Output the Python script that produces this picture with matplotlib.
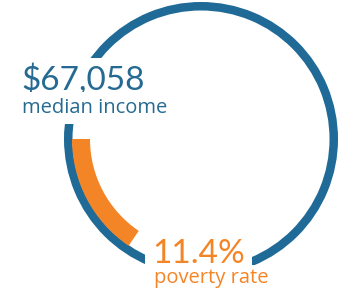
import matplotlib.pyplot as plt
from matplotlib.patches import Wedge

# data
median_income = 67058
poverty_rate = 11.4
labels = ['median income', 'poverty rate']

blue = '#1f6a96'
orange = '#f48526'
text_blue = '#256a92'

# sweep of the orange arc, degrees per percentage point
deg_per_pct = 4.9

fig = plt.figure(figsize=(3.58, 2.99), dpi=100)
ax = fig.add_axes([0, 0, 1, 1])
ax.set_xlim(0, 358)
ax.set_ylim(299, 0)
ax.set_aspect('equal')
ax.axis('off')

cx, cy = 201, 139

# outer blue ring
ring = Wedge((cx, cy), 137, 0, 360, width=8.5, facecolor=blue, edgecolor='none', zorder=1)
ax.add_patch(ring)

# orange arc for poverty rate, starting at 9 o'clock and going down
sweep = poverty_rate * deg_per_pct
arc = Wedge((cx, cy), 129, 180 - sweep, 180, width=18, facecolor=orange, edgecolor='none', zorder=2)
ax.add_patch(arc)

ax.text(21, 90, f'${median_income:,}', fontsize=24, color=text_blue, family='Lato',
        va='baseline', ha='left', zorder=3,
        bbox=dict(facecolor='white', edgecolor='none', pad=4))
ax.text(22, 113, labels[0], fontsize=14.5, color=text_blue, family='Open Sans',
        va='baseline', ha='left', zorder=3,
        bbox=dict(facecolor='white', edgecolor='none', pad=4))

ax.text(152, 263, f'{poverty_rate}%', fontsize=24, color=orange, family='Lato',
        va='baseline', ha='left', zorder=3,
        bbox=dict(facecolor='white', edgecolor='none', pad=5))
ax.text(154, 283, labels[1], fontsize=14.5, color=orange, family='Open Sans',
        va='baseline', ha='left', zorder=3,
        bbox=dict(facecolor='white', edgecolor='none', pad=2))

plt.savefig('out.png', dpi=100)
